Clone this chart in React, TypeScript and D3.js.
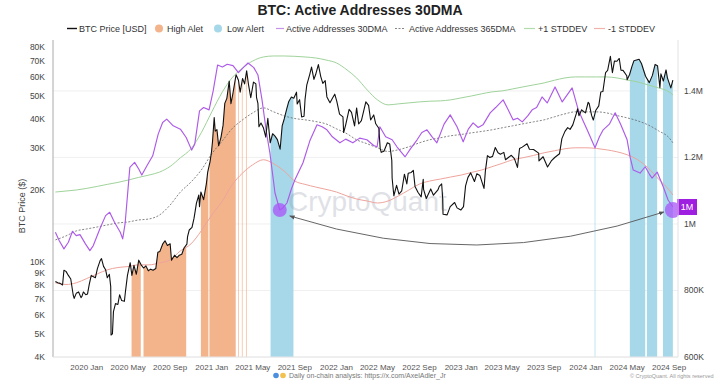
import React from "react";
import * as d3 from "d3";

// ---------------- DATA ----------------
// BTC price [USD]
const btcPrice: [string, number][] = [
  ["2019-10-01", 8300], ["2019-10-08", 8200], ["2019-10-15", 8150], ["2019-10-22", 8020], ["2019-10-26", 9250],
  ["2019-11-01", 9150], ["2019-11-08", 8800], ["2019-11-15", 8500], ["2019-11-22", 7300], ["2019-11-25", 7050],
  ["2019-12-01", 7400], ["2019-12-08", 7500], ["2019-12-15", 7100], ["2019-12-18", 7200], ["2019-12-22", 7500],
  ["2019-12-29", 7300], ["2020-01-03", 7350], ["2020-01-08", 8050], ["2020-01-14", 8800], ["2020-01-19", 8700],
  ["2020-01-26", 8600], ["2020-02-01", 9400], ["2020-02-09", 10150], ["2020-02-13", 10350], ["2020-02-19", 9600],
  ["2020-02-25", 9300], ["2020-03-01", 8600], ["2020-03-07", 8900], ["2020-03-11", 7900], ["2020-03-12", 4950],
  ["2020-03-16", 5000], ["2020-03-19", 6200], ["2020-03-25", 6700], ["2020-04-01", 6650], ["2020-04-06", 7300],
  ["2020-04-12", 6900], ["2020-04-20", 6850], ["2020-04-23", 7500], ["2020-04-29", 8800], ["2020-05-07", 9950],
  ["2020-05-12", 8800], ["2020-05-18", 9700], ["2020-05-25", 8900], ["2020-06-01", 10200], ["2020-06-08", 9750],
  ["2020-06-15", 9450], ["2020-06-22", 9650], ["2020-06-29", 9200], ["2020-07-06", 9350], ["2020-07-13", 9250],
  ["2020-07-21", 9400], ["2020-07-27", 11000], ["2020-08-02", 11100], ["2020-08-10", 11900], ["2020-08-17", 12300],
  ["2020-08-24", 11750], ["2020-09-01", 11950], ["2020-09-05", 10200], ["2020-09-14", 10700], ["2020-09-21", 10450],
  ["2020-09-28", 10700], ["2020-10-05", 10800], ["2020-10-12", 11500], ["2020-10-20", 11900], ["2020-10-22", 12800],
  ["2020-10-27", 13650], ["2020-11-04", 14000], ["2020-11-10", 15300], ["2020-11-17", 17700], ["2020-11-24", 19150],
  ["2020-11-26", 17100], ["2020-11-30", 19700], ["2020-12-08", 18300], ["2020-12-16", 21300], ["2020-12-20", 23900],
  ["2020-12-27", 26500], ["2020-12-31", 29000], ["2021-01-03", 32000], ["2021-01-08", 40500], ["2021-01-11", 35500],
  ["2021-01-16", 36000], ["2021-01-21", 30800], ["2021-01-28", 33500], ["2021-02-03", 37600], ["2021-02-08", 46400],
  ["2021-02-14", 48700], ["2021-02-21", 57500], ["2021-02-26", 46300], ["2021-03-03", 50300], ["2021-03-13", 61200],
  ["2021-03-20", 58000], ["2021-03-25", 51700], ["2021-04-01", 59000], ["2021-04-07", 56000], ["2021-04-13", 63500],
  ["2021-04-18", 56200], ["2021-04-25", 49000], ["2021-05-03", 57000], ["2021-05-10", 56000], ["2021-05-12", 49000],
  ["2021-05-16", 46400], ["2021-05-19", 37000], ["2021-05-25", 38400], ["2021-06-01", 36700], ["2021-06-08", 33500],
  ["2021-06-14", 40200], ["2021-06-21", 31700], ["2021-06-28", 34600], ["2021-07-05", 33800], ["2021-07-12", 32700],
  ["2021-07-20", 29800], ["2021-07-26", 37300], ["2021-08-01", 39900], ["2021-08-08", 43800], ["2021-08-14", 47100],
  ["2021-08-22", 49300], ["2021-08-29", 48800], ["2021-09-06", 51700], ["2021-09-08", 46100], ["2021-09-15", 48100],
  ["2021-09-21", 40700], ["2021-09-28", 41000], ["2021-10-01", 48200], ["2021-10-06", 55300], ["2021-10-15", 61600],
  ["2021-10-20", 65900], ["2021-10-27", 58500], ["2021-11-01", 61300], ["2021-11-09", 67500], ["2021-11-16", 60100],
  ["2021-11-22", 56300], ["2021-11-29", 57800], ["2021-12-04", 49400], ["2021-12-13", 46700], ["2021-12-21", 49000],
  ["2021-12-27", 50700], ["2022-01-02", 47300], ["2022-01-10", 41800], ["2022-01-20", 40700], ["2022-01-22", 35000],
  ["2022-01-28", 37700], ["2022-02-07", 43800], ["2022-02-14", 42500], ["2022-02-23", 37300], ["2022-03-01", 44400],
  ["2022-03-07", 38000], ["2022-03-15", 39300], ["2022-03-28", 47100], ["2022-04-05", 45500], ["2022-04-11", 39500],
  ["2022-04-20", 41500], ["2022-04-26", 38100], ["2022-05-05", 36500], ["2022-05-09", 30100], ["2022-05-12", 28900],
  ["2022-05-20", 29200], ["2022-05-30", 31700], ["2022-06-06", 31300], ["2022-06-12", 26700], ["2022-06-13", 22500],
  ["2022-06-18", 19000], ["2022-06-26", 21000], ["2022-07-03", 19300], ["2022-07-11", 19900], ["2022-07-19", 23400],
  ["2022-07-26", 21300], ["2022-07-30", 23600], ["2022-08-08", 23800], ["2022-08-14", 24300], ["2022-08-19", 20800],
  ["2022-08-28", 19600], ["2022-09-06", 18800], ["2022-09-12", 22300], ["2022-09-13", 20200], ["2022-09-21", 18500],
  ["2022-10-04", 20300], ["2022-10-12", 19100], ["2022-10-25", 20100], ["2022-10-29", 20800], ["2022-11-05", 21300],
  ["2022-11-08", 18500], ["2022-11-09", 15900], ["2022-11-21", 15800], ["2022-11-30", 17100], ["2022-12-13", 17800],
  ["2022-12-20", 16900], ["2022-12-31", 16550], ["2023-01-08", 17100], ["2023-01-14", 20900], ["2023-01-21", 22700],
  ["2023-01-29", 23700], ["2023-02-09", 21800], ["2023-02-16", 23500], ["2023-02-25", 23100], ["2023-03-09", 20400],
  ["2023-03-13", 24100], ["2023-03-19", 28000], ["2023-03-26", 27500], ["2023-04-03", 27800], ["2023-04-11", 30300],
  ["2023-04-19", 28800], ["2023-04-26", 28400], ["2023-05-06", 28900], ["2023-05-11", 26900], ["2023-05-28", 28100],
  ["2023-06-06", 27200], ["2023-06-15", 25000], ["2023-06-21", 30000], ["2023-06-29", 30400], ["2023-07-13", 31400],
  ["2023-07-20", 29800], ["2023-08-01", 29700], ["2023-08-16", 28700], ["2023-08-17", 26600], ["2023-08-29", 27700],
  ["2023-09-11", 25100], ["2023-09-22", 26600], ["2023-10-02", 27500], ["2023-10-16", 28500], ["2023-10-23", 33000],
  ["2023-11-01", 35400], ["2023-11-09", 36700], ["2023-11-16", 36100], ["2023-11-24", 37700], ["2023-12-04", 41900],
  ["2023-12-08", 44000], ["2023-12-12", 41200], ["2023-12-20", 43600], ["2023-12-31", 42300], ["2024-01-08", 46900],
  ["2024-01-11", 46300], ["2024-01-18", 41300], ["2024-01-23", 39500], ["2024-01-30", 43300], ["2024-02-08", 45300],
  ["2024-02-14", 51800], ["2024-02-20", 52000], ["2024-02-28", 62500], ["2024-03-05", 63800], ["2024-03-13", 73100],
  ["2024-03-19", 62400], ["2024-03-25", 69900], ["2024-04-01", 69700], ["2024-04-08", 71600], ["2024-04-13", 63900],
  ["2024-04-19", 63800], ["2024-04-30", 60600], ["2024-05-01", 58300], ["2024-05-08", 61200], ["2024-05-15", 66200],
  ["2024-05-21", 70100], ["2024-06-05", 71100], ["2024-06-12", 68200], ["2024-06-24", 60300], ["2024-07-05", 56700],
  ["2024-07-14", 60800], ["2024-07-22", 67600], ["2024-07-29", 66800], ["2024-08-05", 54000], ["2024-08-08", 61700],
  ["2024-08-15", 57600], ["2024-08-23", 64100], ["2024-08-27", 59400], ["2024-09-06", 53900], ["2024-09-12", 58100],
];

// Active Addresses 30DMA (thousands)
const aa30: [string, number][] = [
  ["2019-10-01", 975], ["2019-10-12", 950], ["2019-10-26", 925], ["2019-11-08", 945], ["2019-11-20", 978],
  ["2019-12-01", 965], ["2019-12-12", 968], ["2019-12-28", 940], ["2020-01-10", 920], ["2020-01-20", 935],
  ["2020-02-08", 985], ["2020-02-25", 1025], ["2020-03-08", 1035], ["2020-03-22", 1005], ["2020-04-08", 975],
  ["2020-04-15", 955], ["2020-04-22", 1000], ["2020-05-06", 1170], ["2020-05-20", 1185], ["2020-06-01", 1165],
  ["2020-06-10", 1147], ["2020-06-25", 1175], ["2020-07-12", 1205], ["2020-07-28", 1270], ["2020-08-10", 1305],
  ["2020-08-22", 1315], ["2020-09-10", 1295], ["2020-10-01", 1285], ["2020-10-18", 1260], ["2020-11-03", 1222],
  ["2020-11-12", 1240], ["2020-11-26", 1340], ["2020-12-08", 1350], ["2020-12-24", 1343], ["2021-01-05", 1400],
  ["2021-01-18", 1478], ["2021-02-01", 1472], ["2021-02-15", 1480], ["2021-03-04", 1476], ["2021-03-20", 1455],
  ["2021-04-03", 1470], ["2021-04-17", 1484], ["2021-05-04", 1470], ["2021-05-16", 1448], ["2021-05-28", 1373],
  ["2021-06-10", 1275], ["2021-06-20", 1214], ["2021-07-05", 1093], ["2021-07-19", 1042], ["2021-07-28", 1048],
  ["2021-08-09", 1063], ["2021-08-22", 1105], ["2021-09-01", 1132], ["2021-09-25", 1184], ["2021-10-15", 1250],
  ["2021-11-05", 1298], ["2021-11-20", 1292], ["2021-12-04", 1283], ["2021-12-20", 1262], ["2022-01-11", 1244],
  ["2022-01-28", 1255], ["2022-02-18", 1244], ["2022-03-10", 1258], ["2022-03-31", 1253], ["2022-04-20", 1236],
  ["2022-04-30", 1232], ["2022-05-08", 1292], ["2022-05-25", 1262], ["2022-06-13", 1253], ["2022-06-27", 1232],
  ["2022-07-21", 1202], ["2022-08-05", 1225], ["2022-08-25", 1253], ["2022-09-08", 1275], ["2022-09-23", 1283],
  ["2022-10-08", 1262], ["2022-10-22", 1244], ["2022-11-12", 1300], ["2022-11-30", 1328], ["2022-12-20", 1292],
  ["2023-01-07", 1247], ["2023-01-22", 1285], ["2023-02-05", 1304], ["2023-02-20", 1290], ["2023-03-06", 1298],
  ["2023-03-27", 1334], ["2023-04-12", 1350], ["2023-05-04", 1373], ["2023-05-18", 1345], ["2023-06-02", 1313],
  ["2023-06-15", 1318], ["2023-06-29", 1307], ["2023-07-15", 1325], ["2023-07-28", 1343], ["2023-08-10", 1350],
  ["2023-08-26", 1382], ["2023-09-10", 1364], ["2023-10-03", 1412], ["2023-10-24", 1367], ["2023-11-22", 1409],
  ["2023-12-10", 1343], ["2023-12-24", 1310], ["2024-01-05", 1283], ["2024-01-28", 1229], ["2024-02-10", 1262],
  ["2024-02-21", 1283], ["2024-03-10", 1300], ["2024-03-27", 1334], ["2024-04-12", 1300], ["2024-05-01", 1253],
  ["2024-05-10", 1200], ["2024-05-19", 1162], ["2024-06-08", 1153], ["2024-06-23", 1172], ["2024-07-05", 1150],
  ["2024-07-13", 1138], ["2024-07-28", 1156], ["2024-08-15", 1111], ["2024-08-29", 1072], ["2024-09-12", 1051],
];

// Monthly points for the slow lines (thousands)
const bandDates: string[] = [
  "2019-10-01", "2019-11-01", "2019-12-01",
  "2020-01-01", "2020-02-01", "2020-03-01", "2020-04-01", "2020-05-01", "2020-06-01",
  "2020-07-01", "2020-08-01", "2020-09-01", "2020-10-01", "2020-11-01", "2020-12-01",
  "2021-01-01", "2021-02-01", "2021-03-01", "2021-04-01", "2021-05-01", "2021-06-01",
  "2021-07-01", "2021-08-01", "2021-09-01", "2021-10-01", "2021-11-01", "2021-12-01",
  "2022-01-01", "2022-02-01", "2022-03-01", "2022-04-01", "2022-05-01", "2022-06-01",
  "2022-07-01", "2022-08-01", "2022-09-01", "2022-10-01", "2022-11-01", "2022-12-01",
  "2023-01-01", "2023-02-01", "2023-03-01", "2023-04-01", "2023-05-01", "2023-06-01",
  "2023-07-01", "2023-08-01", "2023-09-01", "2023-10-01", "2023-11-01", "2023-12-01",
  "2024-01-01", "2024-02-01", "2024-03-01", "2024-04-01", "2024-05-01", "2024-06-01",
  "2024-07-01", "2024-08-01", "2024-09-01", "2024-09-12",
];
const aa365: number[] = [
  952, 964, 979,
  985, 991, 997, 1003, 1006, 1012, 1015, 1027, 1057, 1096, 1126, 1162,
  1211, 1250, 1286, 1313, 1334, 1349, 1337, 1325, 1317, 1313, 1308, 1301,
  1286, 1271, 1253, 1241, 1229, 1218, 1223, 1232, 1244, 1253, 1259, 1265,
  1269, 1274, 1278, 1283, 1289, 1295, 1301, 1307, 1313, 1322, 1331, 1337,
  1337, 1337, 1334, 1326, 1319, 1310, 1298, 1280, 1259, 1244,
];
const plusStd: number[] = [
  1096, 1099, 1102,
  1107, 1113, 1119, 1125, 1132, 1140, 1147, 1156, 1173, 1199, 1226, 1274,
  1337, 1397, 1439, 1469, 1490, 1502, 1505, 1505, 1504, 1502, 1499, 1493,
  1484, 1463, 1439, 1403, 1373, 1358, 1361, 1364, 1367, 1369, 1370, 1373,
  1379, 1385, 1391, 1397, 1400, 1406, 1412, 1418, 1424, 1432, 1439, 1442,
  1442, 1442, 1442, 1439, 1433, 1427, 1418, 1409, 1397, 1388,
];
const minusStd: number[] = [
  823, 818, 823,
  836, 850, 862, 869, 872, 877, 877, 883, 892, 919, 940, 979,
  1027, 1069, 1117, 1153, 1178, 1193, 1181, 1159, 1129, 1119, 1111, 1104,
  1096, 1084, 1075, 1069, 1063, 1069, 1084, 1102, 1120, 1129, 1135, 1141,
  1147, 1155, 1162, 1172, 1182, 1193, 1199, 1206, 1214, 1220, 1226, 1229,
  1229, 1227, 1223, 1217, 1208, 1193, 1169, 1135, 1102, 1087,
];

// Alert periods [start, end]
const highAlert: [string, string][] = [
  ["2020-05-11", "2020-06-06"], ["2020-06-15", "2020-10-17"],
  ["2020-11-30", "2020-12-21"], ["2020-12-25", "2021-03-11"],
  ["2021-03-19", "2021-03-20"], ["2021-03-30", "2021-03-31"], ["2021-04-11", "2021-04-12"],
];
const lowAlert: [string, string][] = [
  ["2021-06-22", "2021-08-27"], ["2024-01-27", "2024-01-28"],
  ["2024-05-09", "2024-06-22"], ["2024-06-28", "2024-07-27"], ["2024-08-14", "2024-09-12"],
];

const leftTickValues = [4000, 5000, 6000, 7000, 8000, 9000, 10000, 20000, 30000, 40000, 50000, 60000, 70000, 80000];
const rightTickValues = [600, 800, 1000, 1200, 1400];
const annotationStart = "2021-07-19";

// ---------------- LAYOUT ----------------
const W = 720;
const H = 380;
const L = 53;
const R = 678;
const T = 47;
const B = 357;
const FONT = "'Liberation Sans', Arial, Helvetica, sans-serif";

const parse = d3.timeParse("%Y-%m-%d");
const P = (s: string) => parse(s) as Date;

const x = d3.scaleTime().domain([P("2019-09-24"), P("2024-09-27")]).range([L, R]);
const yL = d3.scaleLog().domain([4000, 80000]).range([B, T]);
const yR = d3.scaleLinear().domain([600, 1532]).range([B, T]);

const fmtK = (v: number) => `${v / 1000}K`;
const fmtR = (v: number) => (v >= 1000 ? `${v / 1000}M` : `${v}K`);

export default function App() {
  const priceLine = d3.line<[string, number]>().x((d) => x(P(d[0]))).y((d) => yL(d[1]));
  const priceArea = d3
    .area<[string, number]>()
    .x((d) => x(P(d[0])))
    .y0(B)
    .y1((d) => yL(d[1]));
  const aaLine = d3.line<[string, number]>().x((d) => x(P(d[0]))).y((d) => yR(d[1]));
  const monthly = (vals: number[]) =>
    d3
      .line<number>()
      .x((_, i) => x(P(bandDates[i])))
      .y((d) => yR(d))
      .curve(d3.curveMonotoneX)(vals) as string;

  const rectFor = (r: [string, string], i: number) => {
    const x0 = x(P(r[0]));
    const x1 = x(d3.timeDay.offset(P(r[1]), 1));
    return <rect key={i} x={x0} y={T - 10} width={Math.max(0.6, x1 - x0)} height={B - T + 10} />;
  };

  const xTicks = x.ticks(d3.timeMonth.every(4) as any);
  const fmtX = d3.timeFormat("%Y %b");

  const startPt = aa30.find((d) => d[0] === annotationStart)!;
  const endPt = aa30[aa30.length - 1];
  const sx = x(P(startPt[0]));
  const sy = yR(startPt[1]);
  const ex = x(P(endPt[0]));
  const ey = yR(endPt[1]) + 3;
  const a0x = sx + 10, a0y = sy + 6;
  const a1x = ex - 9, a1y = ey + 2;
  const cx = (a0x + a1x) / 2, cy = Math.max(a0y, a1y) + 60;

  const legendY = 28.5;

  return (
    <svg
      width={W}
      height={H}
      viewBox={`0 0 ${W} ${H}`}
      style={{ position: "absolute", left: 0, top: 0, background: "#fff" }}
      fontFamily={FONT}
    >
      <defs>
        <clipPath id="hiClip">{highAlert.map(rectFor)}</clipPath>
        <clipPath id="loClip">{lowAlert.map(rectFor)}</clipPath>
        <marker id="arr" viewBox="0 0 10 10" refX="9" refY="5" markerWidth="6" markerHeight="6" orient="auto-start-reverse">
          <path d="M0,1 L10,5 L0,9 z" fill="#555" />
        </marker>
      </defs>
      <rect x={0} y={0} width={W} height={H} fill="#fff" />

      {/* grid */}
      {rightTickValues.map((v) => (
        <line key={v} x1={L} x2={R} y1={yR(v)} y2={yR(v)} stroke="#f0f0f0" strokeWidth={1} />
      ))}

      {/* alert bands under price */}
      <path d={priceArea(btcPrice) as string} fill="#f4b48b" clipPath="url(#hiClip)" />
      <path d={priceArea(btcPrice) as string} fill="#a6d8ea" clipPath="url(#loClip)" />

      {/* watermark */}
      <text x={288} y={211} fontSize={28} fill="#8f95a8" opacity={0.28}>
        CryptoQuant
      </text>

      {/* lines */}
      <path d={monthly(minusStd)} fill="none" stroke="#eea49c" strokeWidth={1} />
      <path d={monthly(plusStd)} fill="none" stroke="#9fd39a" strokeWidth={1} />
      <path d={monthly(aa365)} fill="none" stroke="#666" strokeWidth={0.8} strokeDasharray="2,1.6" />
      <path d={aaLine(aa30) as string} fill="none" stroke="#ad5ae8" strokeWidth={1.15} strokeLinejoin="round" />
      <path d={priceLine(btcPrice) as string} fill="none" stroke="#111" strokeWidth={1.1} strokeLinejoin="round" />

      {/* annotation */}
      <path
        d={`M${a0x},${a0y} Q${cx},${cy} ${a1x},${a1y}`}
        fill="none"
        stroke="#555"
        strokeWidth={0.9}
        markerStart="url(#arr)"
        markerEnd="url(#arr)"
      />
      <circle cx={sx} cy={sy} r={7} fill="#a855f7" opacity={0.75} />
      <circle cx={ex} cy={ey} r={8} fill="#a855f7" opacity={0.75} />
      <rect x={R - 1} y={yR(endPt[1]) - 8} width={20} height={16} fill="#9f1fe0" />
      <text x={R + 9} y={yR(endPt[1]) + 3.2} fontSize={9} fill="#fff" textAnchor="middle">
        {fmtR(Math.round(endPt[1] / 100) * 100 >= 1000 ? 1000 : endPt[1])}
      </text>

      {/* axes */}
      <line x1={L} x2={L} y1={T - 7} y2={B} stroke="#aaa" strokeWidth={1} />
      <line x1={R} x2={R} y1={T - 7} y2={B} stroke="#e2e2e2" strokeWidth={1} />
      <line x1={L} x2={R} y1={B} y2={B} stroke="#e6e6e6" strokeWidth={1} />
      {leftTickValues.map((v) => (
        <text key={v} x={45} y={yL(v)} dy="0.34em" fontSize={8.5} fill="#444" textAnchor="end">
          {fmtK(v)}
        </text>
      ))}
      {rightTickValues.map((v) => (
        <text key={v} x={684} y={yR(v)} dy="0.34em" fontSize={8.5} fill="#444">
          {fmtR(v)}
        </text>
      ))}
      {xTicks.map((d, i) => (
        <text key={i} x={x(d)} y={369.5} fontSize={8} fill="#555" textAnchor="middle">
          {fmtX(d)}
        </text>
      ))}
      <text x={22} y={206} fontSize={9} fill="#444" textAnchor="middle" transform="rotate(-90 22 206)" dy="0.34em">
        BTC Price ($)
      </text>

      {/* title */}
      <text x={360} y={15} fontSize={14} fontWeight="bold" fill="#222" textAnchor="middle">
        BTC: Active Addresses 30DMA
      </text>

      {/* legend */}
      <g fontSize={9} fill="#333">
        <line x1={67} x2={77} y1={legendY} y2={legendY} stroke="#111" strokeWidth={1.4} />
        <text x={79} y={legendY + 3.2}>BTC Price [USD]</text>
        <circle cx={159} cy={legendY} r={4} fill="#f4b48b" />
        <text x={167} y={legendY + 3.2}>High Alet</text>
        <circle cx={218} cy={legendY} r={4} fill="#a6d8ea" />
        <text x={227} y={legendY + 3.2}>Low Alert</text>
        <line x1={276} x2={284} y1={legendY} y2={legendY} stroke="#c592e8" strokeWidth={1.2} />
        <text x={286} y={legendY + 3.2}>Active Addresses 30DMA</text>
        <line x1={395} x2={405} y1={legendY} y2={legendY} stroke="#777" strokeWidth={0.9} strokeDasharray="2,1.5" />
        <text x={409} y={legendY + 3.2}>Active Addresses 365DMA</text>
        <line x1={524} x2={535} y1={legendY} y2={legendY} stroke="#b3dcae" strokeWidth={1.2} />
        <text x={538} y={legendY + 3.2}>+1 STDDEV</text>
        <line x1={594} x2={605} y1={legendY} y2={legendY} stroke="#f0b2ac" strokeWidth={1.2} />
        <text x={608} y={legendY + 3.2}>-1 STDDEV</text>
      </g>

      {/* footer */}
      <circle cx={276} cy={375.5} r={2.8} fill="#4a8fe0" />
      <circle cx={283} cy={375.5} r={2.8} fill="#f2c14e" />
      <text x={289} y={377.5} fontSize={7} fill="#777">
        Daily on-chain analysis: https://x.com/AxelAdler_Jr
      </text>
      <text x={630} y={377.5} fontSize={5.5} fill="#999">
        © CryptoQuant. All rights reserved
      </text>
    </svg>
  );
}
